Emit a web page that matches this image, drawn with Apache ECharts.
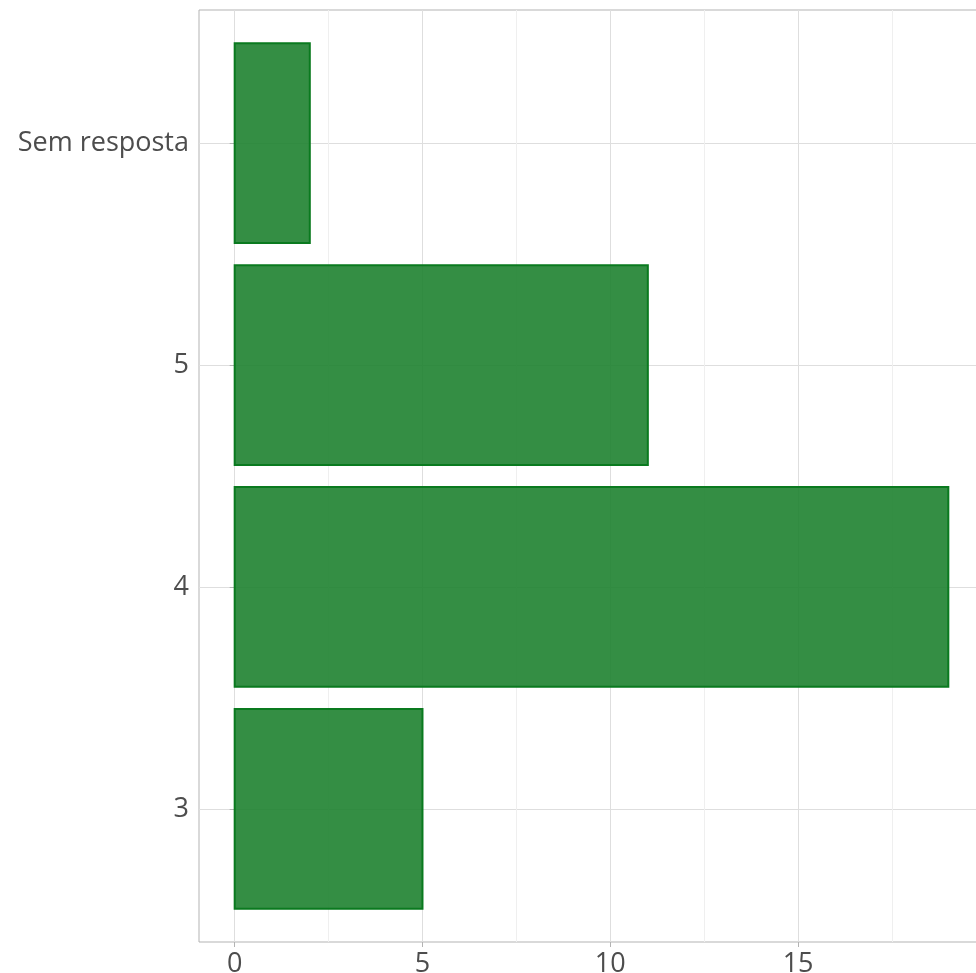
<!DOCTYPE html>
<html>
<head>
<meta charset="utf-8">
<script src="https://cdn.jsdelivr.net/npm/echarts@6/dist/echarts.min.js"></script>
<style>html,body{margin:0;padding:0;background:#fff}#c{width:976px;height:973px}</style>
</head>
<body>
<div id="c"></div>
<script>
// Data (bottom to top)
const categories = ['3', '4', '5', 'Sem resposta'];
const counts = [5, 19, 11, 2];
const xTicks = [0, 5, 10, 15];

const chart = echarts.init(document.getElementById('c'), null, {renderer: 'canvas'});
const positions = categories.map((c, i) => i + 1);
const data = counts.map((v, i) => [v, positions[i]]);
const FONT = 'Open Sans';

chart.setOption({
  animation: false,
  backgroundColor: '#ffffff',
  grid: {left: 199, top: 10, width: 785, height: 932, outerBoundsMode: 'none', containLabel: false,
    show: true, borderColor: '#b3b3b3', borderWidth: 1, backgroundColor: 'transparent'},
  xAxis: {
    type: 'value', min: -0.95, max: 19.95,
    axisLine: {show: false},
    axisTick: {show: true, length: 5, lineStyle: {color: '#b3b3b3', width: 1}, customValues: xTicks},
    axisLabel: {customValues: xTicks, color: '#4d4d4d', fontFamily: FONT, fontSize: 27, margin: 9},
    splitLine: {show: true, lineStyle: {color: '#dedede', width: 1}},
    minorTick: {show: false, splitNumber: 2},
    minorSplitLine: {show: true, lineStyle: {color: '#efefef', width: 1}}
  },
  yAxis: {
    type: 'value', min: 0.4, max: 4.6,
    axisLine: {show: false},
    axisTick: {show: true, length: 5, lineStyle: {color: '#b3b3b3', width: 1}, customValues: positions},
    axisLabel: {customValues: positions, color: '#4d4d4d', fontFamily: FONT, fontSize: 27, margin: 10,
      padding: [4, 0, 0, 0],
      formatter: v => categories[Math.round(v) - 1] || ''},
    splitLine: {show: true, lineStyle: {color: '#dedede', width: 1}}
  },
  series: [{
    type: 'custom',
    data: data,
    encode: {x: 0, y: 1},
    renderItem: function (params, api) {
      const v = api.value(0), y = api.value(1);
      const p0 = api.coord([0, y]);
      const p1 = api.coord([v, y]);
      const h = api.size([0, 0.9])[1];
      return {
        type: 'rect',
        shape: {x: p0[0], y: p0[1] - h / 2, width: p1[0] - p0[0], height: h},
        style: {fill: 'rgba(30,130,48,0.9)', stroke: '#0a7a1f', lineWidth: 2}
      };
    }
  }]
});
</script>
</body>
</html>
